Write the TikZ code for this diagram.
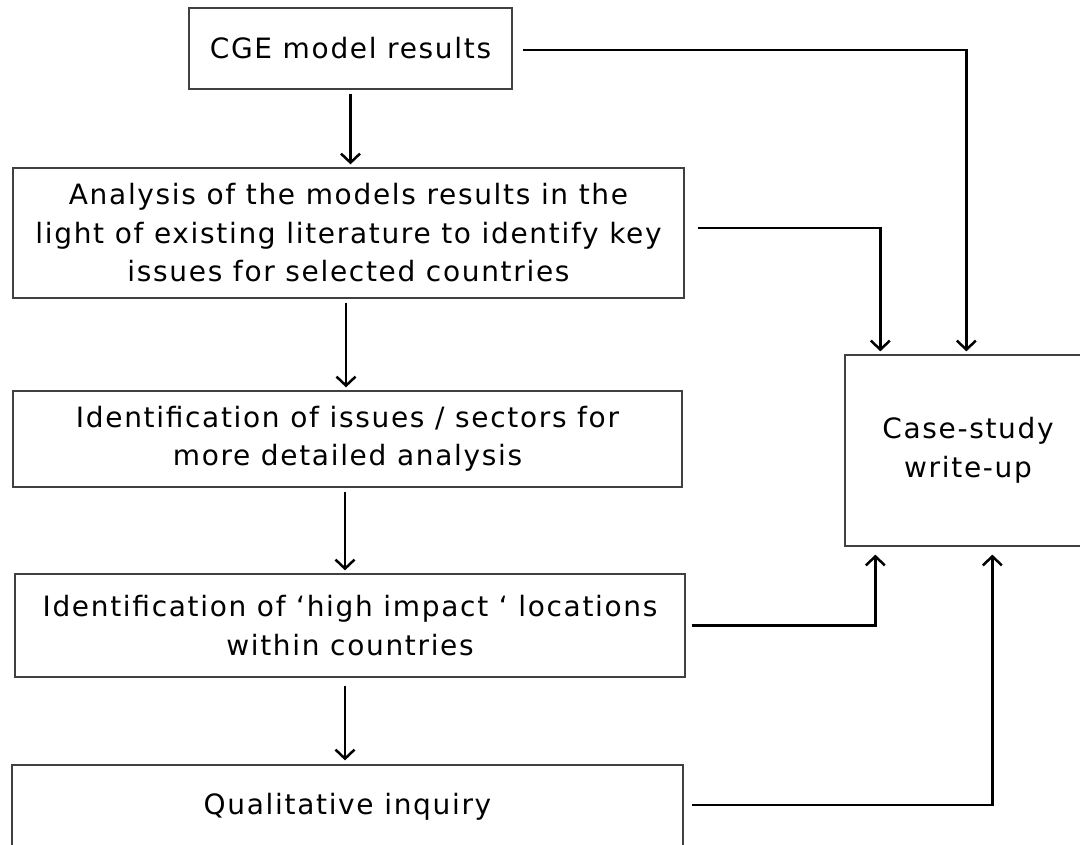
\documentclass[tikz,border=0pt]{standalone}
\usepackage{fontspec}
\setmainfont{DejaVu Sans}[LetterSpace=6]
\usetikzlibrary{arrows.meta,calc}
\begin{document}
\begin{tikzpicture}[x=1pt,y=-1pt,
  box/.style={draw=black!75,line width=1.3pt,align=center,inner sep=0pt,
    font=\fontsize{28}{38.5}\selectfont},
  conn/.style={line width=2.5pt,-{Straight Barb[length=9pt,width=19pt,line width=2.5pt]}}]
\useasboundingbox (0,0) rectangle (1080,845);
\node[box,minimum width=323pt,minimum height=81pt] (b1) at (350.5,48.5) {CGE model results};
\node[box,minimum width=671pt,minimum height=130pt] (b2) at (348.5,233) {Analysis of the models results in the\\light of existing literature to identify key\\issues for selected countries};
\node[box,minimum width=669pt,minimum height=96pt] (b3) at (347.5,439) {Identification of issues / sectors for\\more detailed analysis};
\node[box,minimum width=670pt,minimum height=103pt] (b4) at (350,625.5) {Identification of ‘high impact ‘ locations\\within countries};
\node[box,minimum width=671pt,minimum height=84pt] (b5) at (347.5,807) {Qualitative inquiry};
\node[box,minimum width=246pt,minimum height=191pt] (cs) at (968,450.5) {Case-study\\write-up};
% vertical arrows
\draw[conn] ($(b1.south)+(0,4)$) -- ($(b1.south |- b2.north)+(0,-3)$);
\draw[conn] ($(b2.south)+(-2.5,4)$) -- ($(b2.south |- b3.north)+(-2.5,-3)$);
\draw[conn] ($(b3.south)+(-2.5,4)$) -- ($(b3.south |- b4.north)+(-2.5,-3)$);
\draw[conn] ($(b4.south)+(-5,8)$) -- ($(b4.south |- b5.north)+(-5,-4)$);
% side connectors
\coordinate (c1) at ($(b1.east)+(10,1.5)$);
\coordinate (t1) at ($(cs.north west)+(122,-3)$);
\draw[conn] (c1) -| (t1);
\coordinate (c2) at ($(b2.east)+(13,-5)$);
\coordinate (t2) at ($(cs.north west)+(36,-3)$);
\draw[conn] (c2) -| (t2);
\coordinate (c4) at ($(b4.east)+(6,0)$);
\coordinate (t4) at ($(cs.south west)+(31,8)$);
\draw[conn] (c4) -| (t4);
\coordinate (c5) at ($(b5.east)+(8,-2)$);
\coordinate (t5) at ($(cs.south west)+(148,8)$);
\draw[conn] (c5) -| (t5);
\end{tikzpicture}
\end{document}
